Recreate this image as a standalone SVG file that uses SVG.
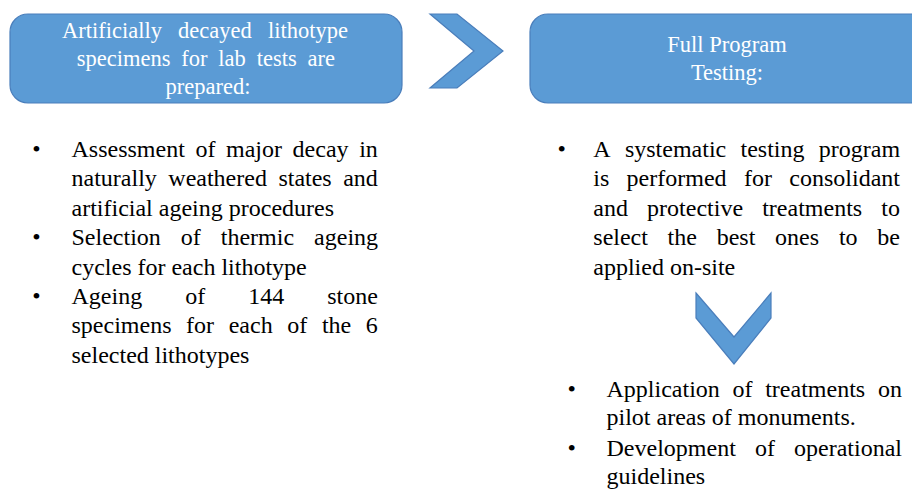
<svg xmlns="http://www.w3.org/2000/svg" width="912" height="489" viewBox="0 0 912 489">
<style>
.box{fill:#5B9BD5;stroke:#4A7EBB;stroke-width:1.2}
.chev{fill:#5B9BD5;stroke:#4A7EBB;stroke-width:1.2;stroke-linejoin:miter}
.bt{font-family:'Liberation Serif','DejaVu Serif',serif;font-size:22.5px;fill:#FFFFFF}
.tx{font-family:'Liberation Serif','DejaVu Serif',serif;font-size:24px;fill:#000000}
.c{text-anchor:middle}
</style>
<rect width="912" height="489" fill="#FFFFFF"/>

<g id="node-lab-specimens">
  <rect class="box" x="10" y="14" width="392" height="89" rx="18" ry="18"/>
  <text class="bt" font-family="Liberation Serif" y="37.5"><tspan x="62">Artificially</tspan><tspan x="178.1">decayed</tspan><tspan x="267.9">lithotype</tspan></text>
  <text class="bt" y="65.5"><tspan x="76.7">specimens</tspan><tspan x="181.3">for</tspan><tspan x="218.3">lab</tspan><tspan x="256.7">tests</tspan><tspan x="307.5">are</tspan></text>
  <text class="bt c" x="208" y="94">prepared:</text>
</g>

<g id="node-full-program">
  <rect class="box" x="530" y="14" width="400" height="89" rx="18" ry="18"/>
  <text class="bt c" x="727" y="52">Full Program</text>
  <text class="bt c" x="727" y="80">Testing:</text>
</g>

<g id="node-lab-list">
  <text class="tx" x="32.3" y="157">•</text>
  <text class="tx" y="157"><tspan x="71.5">Assessment</tspan><tspan x="195.4">of</tspan><tspan x="226">major</tspan><tspan x="292.6">decay</tspan><tspan x="359.2">in</tspan></text>
  <text class="tx" y="186.4"><tspan x="71.5">naturally</tspan><tspan x="168.3">weathered</tspan><tspan x="278.4">states</tspan><tspan x="343.2">and</tspan></text>
  <text class="tx" x="71.5" y="215.8">artificial ageing procedures</text>
  <text class="tx" x="32.3" y="245.2">•</text>
  <text class="tx" y="245.2"><tspan x="71.5">Selection</tspan><tspan x="180.8">of</tspan><tspan x="220.8">thermic</tspan><tspan x="314.1">ageing</tspan></text>
  <text class="tx" x="71.5" y="274.6">cycles for each lithotype</text>
  <text class="tx" x="32.3" y="304">•</text>
  <text class="tx" y="304"><tspan x="71.5">Ageing</tspan><tspan x="185.2">of</tspan><tspan x="248.2">144</tspan><tspan x="327.2">stone</tspan></text>
  <text class="tx" y="333.4"><tspan x="71.5">specimens</tspan><tspan x="186.1">for</tspan><tspan x="228.7">each</tspan><tspan x="287.3">of</tspan><tspan x="321.9">the</tspan><tspan x="365.8">6</tspan></text>
  <text class="tx" x="71.5" y="362.8">selected lithotypes</text>
</g>

<g id="node-testing-list">
  <text class="tx" x="557.5" y="157">•</text>
  <text class="tx" y="157"><tspan x="593.3">A</tspan><tspan x="624.9">systematic</tspan><tspan x="740.5">testing</tspan><tspan x="818.8">program</tspan></text>
  <text class="tx" y="186.4"><tspan x="593.3">is</tspan><tspan x="626.6">performed</tspan><tspan x="743.9">for</tspan><tspan x="789.3">consolidant</tspan></text>
  <text class="tx" y="215.8"><tspan x="593.3">and</tspan><tspan x="647.1">protective</tspan><tspan x="762.2">treatments</tspan><tspan x="881.3">to</tspan></text>
  <text class="tx" y="245.2"><tspan x="593.3">select</tspan><tspan x="667.6">the</tspan><tspan x="716.7">best</tspan><tspan x="775.1">ones</tspan><tspan x="838.9">to</tspan><tspan x="877.3">be</tspan></text>
  <text class="tx" x="593.3" y="274.6">applied on-site</text>
</g>

<g id="node-onsite-list">
  <text class="tx" x="567.5" y="397">•</text>
  <text class="tx" y="397"><tspan x="606.5">Application</tspan><tspan x="732.5">of</tspan><tspan x="765.2">treatments</tspan><tspan x="877.9">on</tspan></text>
  <text class="tx" x="606.5" y="425">pilot areas of monuments.</text>
  <text class="tx" x="567.5" y="455.5">•</text>
  <text class="tx" y="455.5"><tspan x="606.5">Development</tspan><tspan x="754.9">of</tspan><tspan x="794">operational</tspan></text>
  <text class="tx" x="606.5" y="483.5">guidelines</text>
</g>

<g id="connectors">
  <polygon id="chevron-right" class="chev" points="430,14 457,14 503,51 457,88 430,88 474,51"/>
  <polygon id="chevron-down" class="chev" points="696,293 734,337 771,293 771,318 734,364 696,318"/>
</g>
</svg>
